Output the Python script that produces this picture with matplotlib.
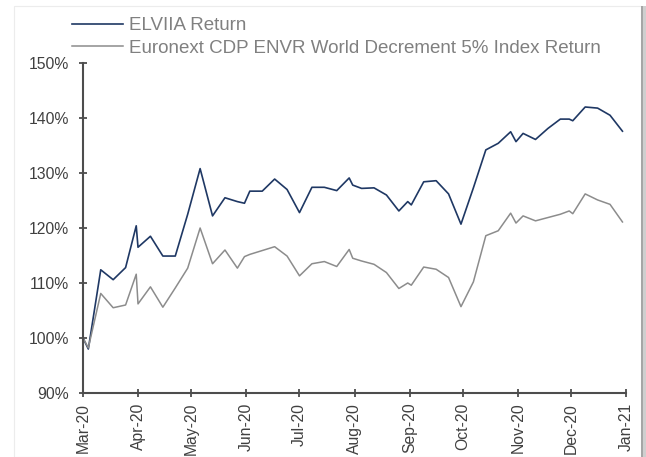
import matplotlib
matplotlib.use("Agg")
import matplotlib.pyplot as plt
import matplotlib.dates as mdates
from matplotlib.patches import Rectangle
from matplotlib.ticker import FuncFormatter, MultipleLocator
import numpy as np

plt.rcParams['font.family'] = ['Liberation Sans', 'DejaVu Sans']

# weekly (Wednesday) observations plus month ends
dates = ["2020-03-01", "2020-03-04", "2020-03-11", "2020-03-18", "2020-03-25", "2020-03-31",
         "2020-04-01", "2020-04-08", "2020-04-15", "2020-04-22", "2020-04-29",
         "2020-05-06", "2020-05-13", "2020-05-20", "2020-05-27", "2020-05-31",
         "2020-06-03", "2020-06-10", "2020-06-17", "2020-06-24",
         "2020-07-01", "2020-07-08", "2020-07-15", "2020-07-22", "2020-07-29", "2020-07-31",
         "2020-08-05", "2020-08-12", "2020-08-19", "2020-08-26", "2020-08-31",
         "2020-09-02", "2020-09-09", "2020-09-16", "2020-09-23", "2020-09-30",
         "2020-10-07", "2020-10-14", "2020-10-21", "2020-10-28", "2020-10-31",
         "2020-11-04", "2020-11-11", "2020-11-18", "2020-11-25", "2020-11-30",
         "2020-12-02", "2020-12-09", "2020-12-16", "2020-12-23", "2020-12-30"]

elviia = [100.0, 98.0, 112.4, 110.6, 112.8, 120.4,
          116.5, 118.5, 114.9, 114.9, 122.5,
          130.8, 122.2, 125.5, 124.8, 124.5,
          126.7, 126.7, 128.9, 127.0,
          122.8, 127.4, 127.4, 126.8, 129.1, 127.8,
          127.2, 127.3, 126.0, 123.1, 124.8,
          124.2, 128.4, 128.6, 126.2, 120.7,
          127.3, 134.2, 135.4, 137.5, 135.7,
          137.2, 136.1, 138.1, 139.8, 139.8,
          139.5, 142.0, 141.8, 140.5, 137.6]

index_ret = [100.0, 98.2, 108.1, 105.5, 106.0, 111.6,
             106.2, 109.3, 105.6, 109.1, 112.7,
             120.0, 113.5, 116.0, 112.7, 114.8,
             115.2, 115.9, 116.6, 114.9,
             111.3, 113.5, 113.9, 113.0, 116.1, 114.5,
             114.0, 113.4, 111.9, 109.0, 110.0,
             109.6, 112.9, 112.5, 111.0, 105.7,
             110.2, 118.6, 119.5, 122.7, 120.9,
             122.2, 121.3, 121.9, 122.5, 123.1,
             122.6, 126.2, 125.1, 124.3, 121.1]

labels = ["ELVIIA Return", "Euronext CDP ENVR World Decrement 5% Index Return"]

x = np.array(dates, dtype="datetime64[D]")

W, H = 646, 457
fig = plt.figure(figsize=(W / 100, H / 100), dpi=100)

# light frame with a shadow on the right, like the source
fig.patches.append(Rectangle((14 / W, 0), (641 - 14) / W, (H - 6) / H, transform=fig.transFigure,
                             facecolor='white', edgecolor='#ececec', linewidth=0.8, zorder=-10))
fig.patches.append(Rectangle((641 / W, 0), 2 / W, (H - 6) / H, transform=fig.transFigure,
                             facecolor='#a6a6a6', edgecolor='none', zorder=-10))
fig.patches.append(Rectangle((643 / W, 0), 3 / W, (H - 6) / H, transform=fig.transFigure,
                             facecolor='#cfcfcf', edgecolor='none', zorder=-10))

ax = fig.add_axes([83 / W, 1 - 393 / H, (626 - 83) / W, (393 - 63) / H])
ax.patch.set_alpha(0)

ax.plot(x, elviia, color='#1f3864', linewidth=1.2, label=labels[0])
ax.plot(x, index_ret, color='#8c8c8c', linewidth=1.1, label=labels[1])

ax.set_xlim(np.datetime64("2020-03-01"), np.datetime64("2021-01-01"))
ax.set_ylim(90, 150)
ax.yaxis.set_major_locator(MultipleLocator(10))
ax.yaxis.set_major_formatter(FuncFormatter(lambda v, p: f"{v:.0f}%"))
ax.xaxis.set_major_locator(mdates.MonthLocator())
ax.xaxis.set_major_formatter(mdates.DateFormatter('%b-%y'))

for s in ['top', 'right']:
    ax.spines[s].set_visible(False)
for s in ['left', 'bottom']:
    ax.spines[s].set_color('#4d4d4d')
    ax.spines[s].set_linewidth(1.5)

ax.tick_params(axis='both', direction='inout', length=6, width=1.3, color='#4d4d4d',
               labelsize=11.3, labelcolor='#404040')
ax.tick_params(axis='y', pad=7)
ax.tick_params(axis='x', pad=4)
for lab in ax.get_xticklabels():
    lab.set_rotation(90)

leg = ax.legend(loc='upper left', bbox_to_anchor=(72 / W, 1 - 17 / H), bbox_transform=fig.transFigure,
                frameon=False, fontsize=13.5, handlelength=2.7, handletextpad=0.32,
                labelspacing=0.3, borderpad=0, borderaxespad=0)
for t in leg.get_texts():
    t.set_color('#808080')

fig.savefig("out.png", dpi=100)
